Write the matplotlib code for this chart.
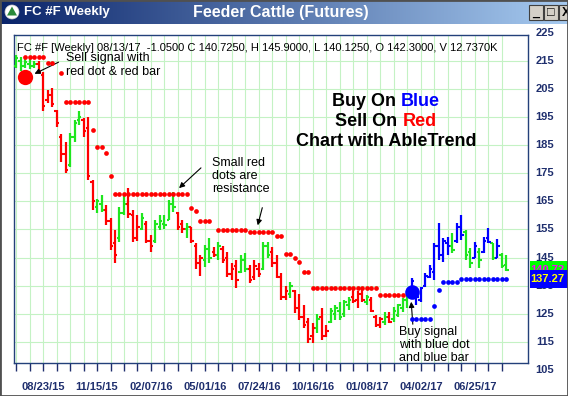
import numpy as np
import matplotlib
matplotlib.use('Agg')
import matplotlib.pyplot as plt
from matplotlib.patches import Rectangle, Circle, Polygon
from matplotlib.colors import LinearSegmentedColormap
from matplotlib.transforms import blended_transform_factory

plt.rcParams['font.family'] = ['Liberation Sans', 'DejaVu Sans']

nan = np.nan

# weekly bars 07/12/15 .. 08/13/17 (one entry per week)
opens = [213, 215, 213, 214, 213, 214, 210, 201, 203, 197,
         188, 182, 178, 188, 194, 194, 191, 172, 163, 164,
         162, 158, 150, 152, 161, 164, 160, 152, 155, 157,
         151, 151, 156, 157, 158.5, 164, 161, 157, 155, 156,
         149, 143, 144, 148, 147, 146, 148, 145, 139, 142,
         140, 144, 141, 138, 141, 141, 149, 147, 143, 138,
         131, 132, 133, 127, 124, 122, 117, 120, 124, 117,
         122, 125, 126, 125, 128, 131, 130, 132, 129, 130,
         124, 121, 122, 124, 123, 124.5, 127, 130, 131, 132,
         130, 135, 138, 140, 149, 146, 150, 149, 151, 156,
         154, 147, 145, 147, 147, 152, 150, 145, 146, 142.3]
highs = [217.0, 216.5, 215.5, 215.5, 215.0, 215.0, 211.0, 204.6, 205.3, 197.5,
         189.0, 186.0, 189.3, 194.0, 197.0, 194.7, 195.0, 172.5, 166.0, 167.2,
         163.6, 159.0, 154.8, 163.0, 167.0, 169.7, 162.0, 160.0, 161.0, 158.0,
         153.0, 158.3, 160.0, 160.0, 165.4, 168.3, 161.2, 158.3, 157.2, 156.0,
         150.0, 146.0, 149.5, 152.0, 148.8, 150.5, 149.0, 147.0, 143.0, 144.0,
         145.8, 146.5, 142.5, 144.0, 143.0, 150.5, 150.5, 148.8, 145.8, 139.4,
         135.0, 136.2, 133.4, 132.0, 128.0, 123.5, 121.7, 125.0, 127.0, 121.0,
         127.0, 128.0, 129.2, 129.8, 130.9, 133.4, 133.0, 133.8, 131.6, 131.0,
         124.5, 123.8, 125.6, 125.6, 127.3, 128.5, 130.6, 132.0, 137.7, 133.4,
         134.5, 139.4, 142.3, 150.2, 157.2, 152.0, 152.3, 153.7, 157.2, 160.0,
         154.8, 148.4, 150.5, 148.4, 152.3, 155.5, 150.0, 151.5, 146.5, 145.9]
lows = [212.3, 211.5, 212.5, 212.0, 212.5, 210.5, 197.0, 200.0, 198.6, 191.4,
        179.0, 175.0, 177.2, 186.0, 192.0, 188.0, 172.5, 162.0, 161.0, 161.2,
        156.6, 147.6, 143.0, 150.5, 160.0, 159.0, 150.5, 151.0, 154.8, 150.0,
        147.0, 150.0, 154.8, 155.0, 158.3, 161.2, 154.8, 153.7, 151.9, 150.0,
        141.0, 138.5, 141.6, 143.0, 145.2, 144.0, 143.0, 138.0, 137.0, 134.0,
        139.4, 139.8, 136.0, 137.0, 138.0, 140.6, 144.8, 141.6, 137.6, 129.8,
        129.8, 130.5, 125.2, 122.7, 119.9, 114.6, 114.6, 118.0, 115.6, 116.7,
        121.7, 122.7, 122.7, 123.8, 126.3, 128.8, 127.0, 129.2, 128.0, 125.6,
        120.2, 119.9, 121.0, 121.7, 122.0, 123.8, 125.6, 127.0, 130.6, 128.0,
        129.2, 134.5, 137.7, 137.0, 144.0, 143.4, 145.9, 146.6, 150.0, 151.2,
        144.0, 141.3, 144.8, 141.3, 146.6, 150.0, 144.0, 144.8, 141.3, 140.125]
closes = [216.0, 213.0, 214.5, 213.0, 214.0, 211.0, 199.0, 203.0, 199.5, 193.0,
          182.0, 176.0, 188.0, 193.0, 195.0, 190.0, 174.0, 165.0, 165.0, 162.0,
          158.0, 149.0, 146.0, 161.0, 164.0, 160.5, 152.0, 156.0, 159.0, 151.0,
          149.0, 157.0, 158.0, 156.5, 164.0, 163.0, 156.0, 155.0, 156.0, 151.0,
          143.0, 145.0, 148.0, 145.0, 146.0, 149.0, 144.0, 139.0, 141.0, 137.0,
          144.0, 141.0, 137.0, 142.0, 139.0, 149.0, 146.0, 143.0, 138.0, 131.0,
          133.0, 135.0, 127.0, 124.0, 121.0, 116.0, 120.0, 123.0, 117.0, 119.0,
          126.0, 127.0, 124.0, 129.0, 130.0, 129.5, 132.0, 130.0, 131.0, 126.0,
          121.0, 123.0, 124.0, 122.0, 126.0, 128.0, 130.0, 131.5, 136.5, 131.0,
          134.0, 138.5, 141.0, 149.0, 146.0, 151.0, 149.0, 147.5, 156.0, 153.0,
          146.0, 143.0, 149.0, 144.0, 151.0, 150.5, 145.0, 149.0, 141.8, 140.725]
# AbleTrend bar colour: r = down, g = neutral, b = up
trend = ("gggggrrrrrrrgggrrrggrrrggrrrgrrgggggrrgrrrggrgrrrrggrrrggrrrrg"
         "rrrrrgrrgggggrrrgrrrgrggggbbbbbbbbbgbbggbgbbgbgg")

# resistance (red) and support (blue) dots
red_dots = ([nan, nan] + [216.3] * 5 + [214.3] * 2 + [nan, 210.6] + [200.5] * 6
            + [190.4, 184.3, 184.3, 182.2, 174.0] + [167.5] * 17
            + [162.7, 161.7, 158.1, 158.1, 158.1, nan] + [154.8] * 7 + [154.0] * 6
            + [152.8, 152.8, 146.4, 146.4, 145.0, 143.5, 140.0, 140.0]
            + [134.0] * 15 + [131.7] * 6 + [nan] * 23)
blue_dots = ([nan] * 88 + [123.0] * 5 + [127.7, 133.4] + [136.4] * 4 + [137.27] * 11)

sell_week, sell_price = 2, 209.2
buy_week, buy_price = 88, 132.6

tick_weeks = [6, 18, 30, 42, 54, 66, 78, 90, 102]
tick_labels = ['08/23/15', '11/15/15', '02/07/16', '05/01/16', '07/24/16',
               '10/16/16', '01/08/17', '04/02/17', '06/25/17']
price_labels = list(range(105, 226, 10))
last_close = 140.72
support_level = 137.27

assert len(trend) == len(highs) == len(lows) == len(opens) == len(closes)
assert len(red_dots) == len(highs) and len(blue_dots) == len(highs)

W, H = 568, 396
fx = lambda px: px / W
fy = lambda py: 1 - py / H

navy = '#1f2f6e'
cmap = {'r': '#ff0000', 'g': '#1ee61e', 'b': '#0000ff'}

fig = plt.figure(figsize=(W / 100, H / 100), dpi=100, facecolor='white')
ax = fig.add_axes([fx(14), fy(363), fx(528) - fx(14), fy(35) - fy(363)])

k = np.arange(len(highs))
bar_cols = [cmap[c] for c in trend]
ax.vlines(k, lows, highs, colors=bar_cols, lw=1.6, zorder=3)
ax.hlines(opens, k - 0.55, k, colors=bar_cols, lw=1.5, zorder=3)
ax.hlines(closes, k, k + 0.55, colors=bar_cols, lw=1.5, zorder=3)
ax.plot(k, red_dots, 'o', color='#ff0000', ms=3.4, mew=0, zorder=4)
ax.plot(k, blue_dots, 'o', color='#0000ff', ms=3.4, mew=0, zorder=4)
ax.plot([sell_week], [sell_price], 'o', color='#ff0000', ms=11, mew=0, zorder=5)
ax.plot([buy_week], [buy_price], 'o', color='#0000ff', ms=10.5, mew=0, zorder=5)

ax.set_xticks(range(0, 110, 3))
ax.set_xticklabels([tick_labels[tick_weeks.index(t)] if t in tick_weeks else ''
                    for t in range(0, 110, 3)])
ax.set_yticks(range(115, 225, 10))
ax.set_yticklabels([])
ax.grid(True, color='#c4f2c4', lw=0.8, zorder=0)
ax.tick_params(axis='x', direction='out', length=6, width=1, color=navy, pad=8,
               labelsize=8, labelcolor=navy)
ax.tick_params(axis='y', length=0)
for lab in ax.get_xticklabels():
    lab.set_fontweight('bold')
for s in ax.spines.values():
    s.set_color('#23407a')
    s.set_linewidth(1)

# right price scale
trans = blended_transform_factory(fig.transFigure, ax.transData)
for v in price_labels:
    ax.text(fx(545), v, str(v), transform=trans, ha='center', va='center',
            fontsize=8, fontweight='bold', color=navy, clip_on=False)
bh = 9 / 2.81
ax.add_patch(Rectangle((fx(530), last_close - bh), fx(40), 2 * bh, transform=trans,
                       facecolor='#00ff00', edgecolor='none', clip_on=False, zorder=6))
ax.text(fx(547), last_close, '%.2f' % last_close, transform=trans, ha='center', va='center',
        fontsize=8, fontweight='bold', color='#ff00ff', clip_on=False, zorder=7)
ax.add_patch(Rectangle((fx(530), support_level - bh), fx(40), 2 * bh, transform=trans,
                       facecolor='#0000ff', edgecolor='none', clip_on=False, zorder=8))
ax.text(fx(547), support_level, '%.2f' % support_level, transform=trans, ha='center',
        va='center', fontsize=8, fontweight='bold', color='#ffff00', clip_on=False, zorder=9)

ax.set_xlim(-0.45, 113.8)
ax.set_ylim(107.45, 224.2)

# header line
fig.text(fx(17), fy(48), 'FC #F [Weekly] 08/13/17  -1.0500 C 140.7250, H 145.9000, '
         'L 140.1250, O 142.3000, V 12.7370K', fontsize=8, va='center', ha='left')

# annotations
arrow = dict(arrowstyle='-|>', color='black', lw=0.8, mutation_scale=8)
fig.text(fx(66), fy(65), 'Sell signal with\nred dot & red bar', fontsize=9,
         va='center', ha='left', linespacing=1.25)
ax.annotate('', xy=(fx(32), fy(75)), xytext=(fx(61), fy(61)), xycoords='figure fraction',
            textcoords='figure fraction', arrowprops=arrow)
fig.text(fx(212), fy(176), 'Small red\ndots are\nresistance', fontsize=9,
         va='center', ha='left', linespacing=1.1)
ax.annotate('', xy=(fx(177), fy(190)), xytext=(fx(203), fy(166)), xycoords='figure fraction',
            textcoords='figure fraction', arrowprops=arrow)
ax.annotate('', xy=(fx(257), fy(228)), xytext=(fx(263), fy(205)), xycoords='figure fraction',
            textcoords='figure fraction', arrowprops=arrow)
fig.text(fx(399), fy(345), 'Buy signal\nwith blue dot\nand blue bar', fontsize=9,
         va='center', ha='left', linespacing=1.1)
ax.annotate('', xy=(fx(411), fy(299)), xytext=(fx(413), fy(327)), xycoords='figure fraction',
            textcoords='figure fraction', arrowprops=arrow)

renderer = fig.canvas.get_renderer()


def colour_line(parts, cx, cy, size=13):
    texts = [fig.text(0, fy(cy), s, color=c, fontsize=size, fontweight='bold',
                      va='center', ha='left') for s, c in parts]
    widths = [t.get_window_extent(renderer).width for t in texts]
    gap = size * 0.28 * 100 / 72
    x = cx - (sum(widths) + gap * (len(parts) - 1)) / 2
    for t, w in zip(texts, widths):
        t.set_x(fx(x))
        x += w + gap


colour_line([('Buy On', 'black'), ('Blue', '#0000ff')], 386, 102)
colour_line([('Sell On', 'black'), ('Red', '#ff0000')], 386, 122)
colour_line([('Chart with AbleTrend', 'black')], 386, 142)

# window title bar
tb = fig.add_axes([0, fy(24), 1, 24 / H])
grad = LinearSegmentedColormap.from_list('tb', ['#0a246a', '#a6caf0'])
tb.imshow(np.linspace(0, 1, 256)[None, :], aspect='auto', cmap=grad, extent=(0, W, 24, 0))
tb.set_xlim(0, W)
tb.set_ylim(24, 0)
tb.axis('off')
tb.add_patch(Circle((12, 12), 7, facecolor='white', edgecolor='#d0d0d0', lw=0.5))
tb.add_patch(Polygon([(12, 6.5), (17, 15.5), (7, 15.5)], facecolor='#2a8a3a'))
tb.text(24, 12.5, 'FC #F Weekly', color='white', fontsize=9.5, fontweight='bold',
        va='center', ha='left')
tb.text(281, 13, 'Feeder Cattle (Futures)', color='white', fontsize=11.5,
        fontweight='bold', va='center', ha='center')
for bx, sym in [(529, '_'), (544, '□'), (559, 'X')]:
    tb.add_patch(Rectangle((bx, 5), 14, 15, facecolor='#d4d0c8', edgecolor='#404040', lw=0.8))
    tb.text(bx + 7, 12.5, sym, fontsize=9, fontweight='bold', ha='center', va='center',
            color='black')

fig.add_artist(Rectangle((0, 0), 1, 1, transform=fig.transFigure, fill=False,
                         edgecolor='#505050', lw=2))

fig.savefig('out.png', dpi=100)
